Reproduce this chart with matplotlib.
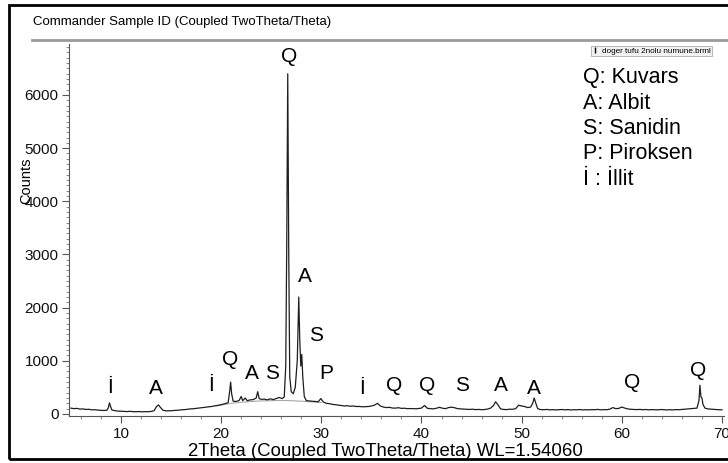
import matplotlib
matplotlib.use('Agg')
import matplotlib.pyplot as plt
from matplotlib.ticker import MultipleLocator
from matplotlib.patches import Rectangle
from matplotlib.lines import Line2D

plt.rcParams['font.family'] = ['Liberation Sans', 'DejaVu Sans']

twotheta = [5.0, 5.3, 5.6, 5.9, 6.2, 6.5, 6.8, 7.1, 7.4, 7.7, 8.0, 8.3, 8.6, 8.75, 8.85, 8.95, 9.1, 9.4, 9.7,
            10.0, 10.3, 10.6, 10.9, 11.2, 11.5, 11.8, 12.1, 12.4, 12.7, 13.0, 13.3, 13.55, 13.75, 13.95, 14.2,
            14.5, 14.8, 15.1, 15.4, 15.7, 16.0, 16.3, 16.6, 16.9, 17.2, 17.5, 17.8, 18.1, 18.4, 18.7, 19.0,
            19.3, 19.6, 19.9, 20.2, 20.5, 20.7, 20.85, 20.95, 21.05, 21.2, 21.5, 21.8, 22.0, 22.15, 22.4, 22.6,
            22.9, 23.2, 23.5, 23.65, 23.8, 24.0, 24.3, 24.6, 24.9, 25.2, 25.5, 25.8, 26.1, 26.3, 26.45, 26.55,
            26.65, 26.75, 26.85, 27.0, 27.2, 27.4, 27.6, 27.75, 27.85, 27.95, 28.05, 28.15, 28.3, 28.5, 28.8,
            29.1, 29.4, 29.7, 29.95, 30.2, 30.5, 30.8, 31.1, 31.4, 31.7, 32.0, 32.3, 32.6, 32.9, 33.2, 33.5,
            33.8, 34.1, 34.4, 34.7, 35.0, 35.3, 35.6, 35.9, 36.2, 36.5, 36.8, 37.1, 37.4, 37.7, 38.0, 38.3,
            38.6, 38.9, 39.2, 39.5, 39.8, 40.0, 40.3, 40.6, 40.9, 41.2, 41.5, 41.8, 42.1, 42.4, 42.7, 43.0,
            43.3, 43.6, 43.9, 44.2, 44.5, 44.8, 45.1, 45.4, 45.7, 46.0, 46.3, 46.6, 46.9, 47.2, 47.4, 47.6,
            47.9, 48.2, 48.5, 48.8, 49.1, 49.4, 49.7, 50.0, 50.3, 50.6, 50.9, 51.1, 51.25, 51.4, 51.6, 51.9,
            52.2, 52.5, 52.8, 53.1, 53.4, 53.7, 54.0, 54.3, 54.6, 54.9, 55.2, 55.5, 55.8, 56.1, 56.4, 56.7,
            57.0, 57.3, 57.6, 57.9, 58.2, 58.5, 58.8, 59.1, 59.4, 59.7, 60.0, 60.3, 60.6, 60.9, 61.2, 61.5,
            61.8, 62.1, 62.4, 62.7, 63.0, 63.3, 63.6, 63.9, 64.2, 64.5, 64.8, 65.1, 65.4, 65.7, 66.0, 66.3,
            66.6, 66.9, 67.2, 67.5, 67.7, 67.8, 67.9, 68.0, 68.1, 68.3, 68.6, 68.9, 69.2, 69.5, 69.8, 70.0]
counts = [110, 100, 105, 92, 95, 85, 88, 78, 80, 72, 70, 66, 70, 120, 210, 150, 75, 62, 55,
          52, 48, 45, 50, 44, 42, 46, 40, 44, 42, 48, 60, 140, 170, 120, 70,
          58, 60, 62, 68, 70, 78, 80, 88, 95, 98, 105, 112, 120, 128, 135, 140,
          150, 162, 170, 185, 200, 215, 420, 600, 380, 240, 235, 255, 330, 250, 300, 250,
          265, 270, 300, 420, 290, 275, 280, 265, 285, 270, 290, 310, 290, 320, 900, 3200,
          6400, 3000, 700, 420, 380, 500, 1000, 2200, 1400, 900, 1120, 700, 330, 250, 245,
          240, 235, 230, 290, 225, 200, 195, 180, 175, 165, 160, 150, 155, 145, 150, 140,
          142, 135, 138, 140, 150, 165, 200, 150, 130, 120, 125, 112, 110, 118, 105, 108,
          100, 102, 100, 98, 105, 110, 160, 105, 100, 96, 108, 125, 108, 100, 120, 128,
          118, 100, 95, 92, 88, 85, 90, 82, 86, 80, 84, 92, 110, 160, 230, 180,
          95, 85, 82, 90, 88, 100, 165, 150, 140, 120, 130, 200, 300, 210, 100, 82,
          80, 85, 78, 82, 76, 80, 84, 78, 82, 76, 80, 78, 84, 76, 80, 78,
          82, 80, 86, 78, 82, 80, 90, 120, 100, 105, 130, 110, 95, 88, 85, 82,
          86, 80, 84, 78, 82, 80, 78, 84, 80, 76, 80, 78, 82, 80, 84, 90,
          95, 100, 105, 110, 250, 540, 320, 300, 180, 110, 95, 90, 86, 82, 80, 78]

# fitted background under the main peaks
bg_x = [19.5, 21.0, 22.0, 23.0, 24.0, 25.0, 26.0, 27.0, 28.0, 29.0, 30.0]
bg_y = [150, 200, 220, 235, 245, 250, 255, 250, 240, 228, 215]

# phase labels
ann_x = [8.9, 13.5, 19.0, 20.9, 23.1, 25.1, 26.8, 28.4, 29.5, 30.5, 34.1, 37.3, 40.6, 44.1, 47.9, 51.2, 61.0, 67.6]
ann_y = [490, 480, 530, 1030, 760, 760, 6730, 2590, 1480, 760, 475, 530, 530, 530, 530, 475, 590, 820]
ann_lbl = ['İ', 'A', 'İ', 'Q', 'A', 'S', 'Q', 'A', 'S', 'P', 'İ', 'Q', 'Q', 'S', 'A', 'A', 'Q', 'Q']

key_lines = ['Q: Kuvars', 'A: Albit', 'S: Sanidin', 'P: Piroksen', 'İ : İllit']
scan_name = 'doger tufu 2nolu numune.brml'

fig = plt.figure(figsize=(7.28, 4.63), dpi=100, facecolor='white')
ax = fig.add_axes([0.0946, 0.1013, 0.8999, 0.8026])

ax.plot(bg_x, bg_y, color='#a8a8a8', lw=0.8)
ax.plot(twotheta, counts, color='#1e1e1e', lw=0.9)

for x, y, s in zip(ann_x, ann_y, ann_lbl):
    ax.text(x, y, s, ha='center', va='center', fontsize=15, color='black')

for i, s in enumerate(key_lines):
    ax.text(0.785, 0.911 - i * 0.0685, s, transform=ax.transAxes, ha='left', va='center', fontsize=15.5)

ax.set_xlim(4.8, 70.2)
ax.set_ylim(-40, 6950)
ax.xaxis.set_major_locator(MultipleLocator(10))
ax.xaxis.set_minor_locator(MultipleLocator(2))
ax.yaxis.set_major_locator(MultipleLocator(1000))
ax.yaxis.set_minor_locator(MultipleLocator(100))
ax.tick_params(which='major', length=5, width=0.8, labelsize=11, pad=2.5, colors='#555555', labelcolor='#111111')
ax.tick_params(which='minor', length=2.5, width=0.6, colors='#777777')
for side in ['top', 'right']:
    ax.spines[side].set_visible(False)
for side in ['left', 'bottom']:
    ax.spines[side].set_color('#555555')
    ax.spines[side].set_linewidth(0.8)

ax.set_xlabel('2Theta (Coupled TwoTheta/Theta) WL=1.54060', fontsize=13.4)
ax.xaxis.set_label_coords((385 - 68.9) / 655, -0.096)
ax.xaxis.label.set_va('center')
fig.text(0.036, 0.61, 'Counts', rotation=90, ha='center', va='center', fontsize=10.5)

handle = Line2D([], [], color='black', marker='|', ls='none', markersize=4, markeredgewidth=1)
leg = ax.legend([handle], [scan_name], loc='upper right', bbox_to_anchor=(0.988, 1.008), fontsize=5.9,
                handlelength=0.6, handletextpad=0.6, borderpad=0.15, fancybox=False,
                framealpha=1, edgecolor='#aaaaaa', facecolor='#f2f2f2')
leg.get_frame().set_linewidth(0.6)

fig.text(33 / 728, 1 - 22 / 463, 'Commander Sample ID (Coupled TwoTheta/Theta)', ha='left', va='center', fontsize=9.5)
fig.add_artist(Line2D([32 / 728, 1.0], [1 - 40 / 463] * 2, color='#9a9a9a', lw=2))
fig.add_artist(Rectangle((9 / 728, 4 / 463), 1.0, 1 - 9 / 463, fill=False, edgecolor='black', lw=2))

fig.savefig('out.png', dpi=100)
